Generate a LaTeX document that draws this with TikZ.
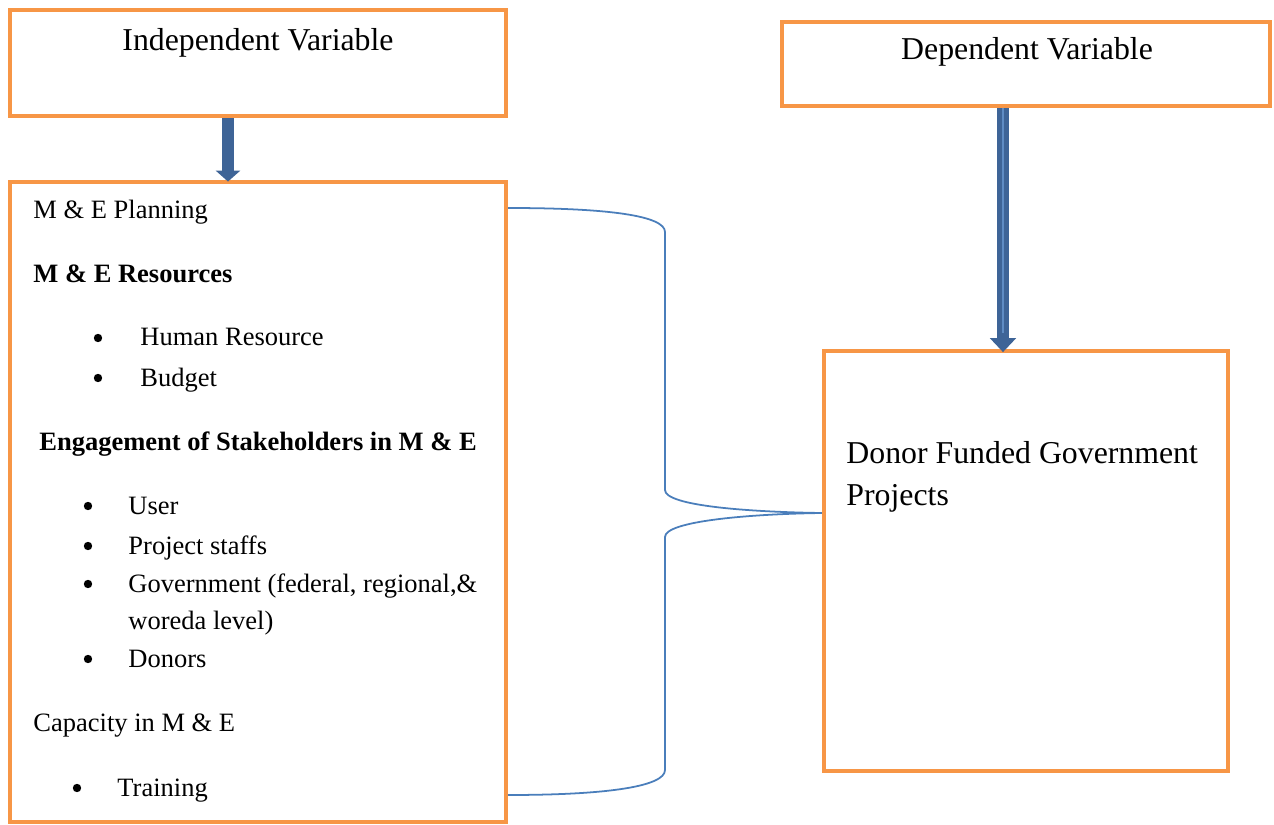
\documentclass[tikz,border=0pt,12pt]{standalone}
\usepackage{fontspec}
\setmainfont{Liberation Serif}
\usetikzlibrary{arrows.meta,positioning,fit}
\definecolor{boxorange}{HTML}{F79646}
\definecolor{arrowblue}{HTML}{3E6497}
\definecolor{arrowlight}{HTML}{5F8CC4}
\definecolor{braceblue}{HTML}{4A7EBB}

\begin{document}
\begin{tikzpicture}[x=0.01591cm, y=-0.01591cm,
  box/.style={draw=boxorange, line width=2pt, inner sep=0pt, rectangle},
  title/.style={font=\large, anchor=base, inner sep=0pt},
  item/.style={anchor=base west, inner sep=0pt},
  bigarrow/.style={arrowblue, line width=5pt, -{Triangle[width=11pt,length=5pt]}},
  brace/.style={braceblue, line width=0.8pt}]
\useasboundingbox (0,0) rectangle (1274,825);

% --- Boxes ---
\node[box, fit={(10,10) (506,116)}] (indep) {};
\node[box, fit={(782,22) (1270,106)}] (dep) {};
\node[box, fit={(10,182) (506,822)}] (factors) {};
\node[box, fit={(824,351) (1228,771)}] (outcome) {};

% Titles
\node[title] (indeptitle) at (258,51) {Independent Variable};
\node[title] (deptitle) at (1027,60) {Dependent Variable};

% --- Arrows ---
\coordinate (a1) at (228,0);
\coordinate (a2) at (1003,0);
\draw[bigarrow] (a1 |- indep.south) -- ([yshift=-0.8pt]a1 |- factors.north);
\draw[bigarrow, line width=5.4pt, -{Triangle[width=11.5pt,length=6.3pt]}]
  (a2 |- dep.south) -- ([yshift=-1.5pt]a2 |- outcome.north);
\draw[arrowlight, line width=0.9pt, shorten >=7pt] (a2 |- dep.south) -- (a2 |- outcome.north);

% --- Independent variables (left) ---
\node[item] (plan) at (33,219) {M \& E Planning};
\node[item, font=\bfseries] (res) at (33,282) {M \& E Resources};
\node[item] (human) at (140,346) {Human Resource};
\node[item] (budget) at (140,386) {Budget};
\node[item, font=\bfseries] (engage) at (39,450) {Engagement of Stakeholders in M \& E};
\node[item] (user) at (128,514) {User};
\node[item] (staff) at (128,554) {Project staffs};
\node[item] (gov) at (128,592) {Government (federal, regional,\&};
\node[item] (woreda) at (128,629) {woreda level)};
\node[item] (donors) at (128,667) {Donors};
\node[item] (capacity) at (33,731) {Capacity in M \& E};
\node[item] (train) at (117,796) {Training};

% bullets
\foreach \bx/\by in {98/338, 98/378, 88/506, 88/546, 88/584, 88/659, 77/788}
  \fill (\bx,\by) circle (1.9pt);

% --- Dependent variable (right) ---
\node[item, font=\large] (donor) at (846,463) {Donor Funded Government};
\node[item, font=\large] (proj) at (846,505) {Projects};

% --- Brace ---
\coordinate (btop) at (factors.east |- 0,208);
\coordinate (bbot) at (factors.east |- 0,795);
\coordinate (btip) at (outcome.west |- 0,513);
\draw[brace] (btop) .. controls (610,208) and (665,216) .. (665,232) -- (665,490)
  .. controls (665,506) and (750,512) .. (btip)
  .. controls (750,514) and (665,521) .. (665,537) -- (665,770)
  .. controls (665,786) and (610,795) .. (bbot);
\end{tikzpicture}
\end{document}
